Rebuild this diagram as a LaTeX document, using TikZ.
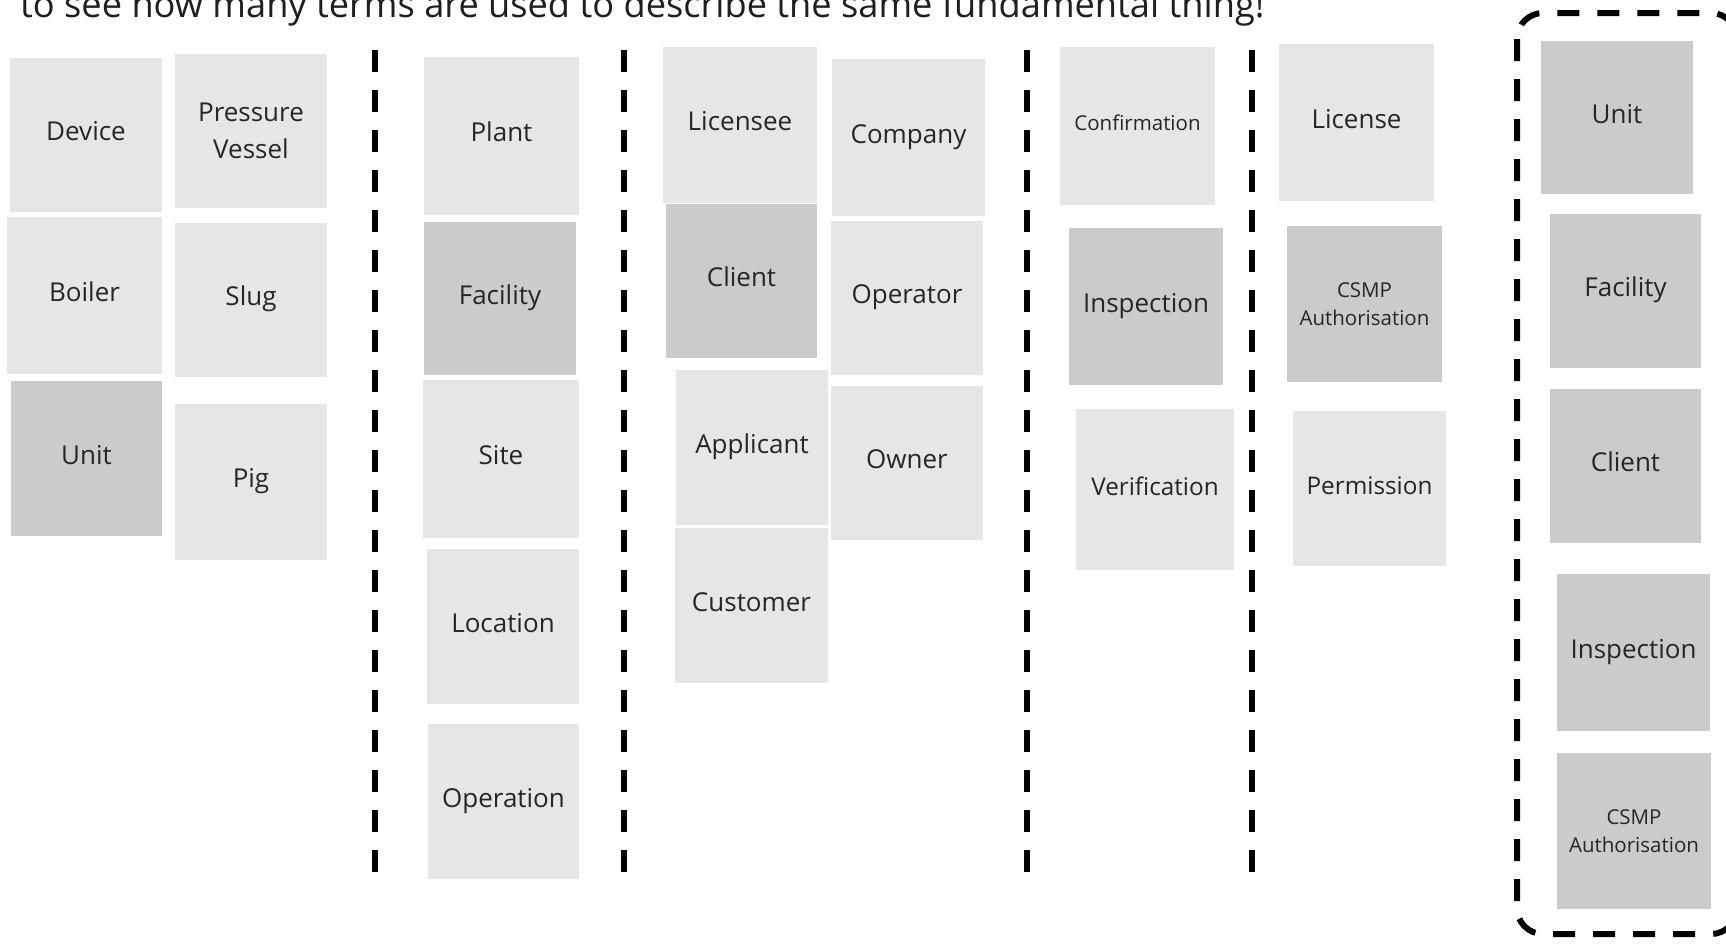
\documentclass[tikz,border=0pt]{standalone}
\usepackage{fontspec}
\setmainfont{Open Sans}
\definecolor{noteLight}{HTML}{E6E6E6}
\definecolor{noteDark}{HTML}{CBCBCB}
\definecolor{ink}{HTML}{262626}
\newcommand\stickynote[7]{%
  \node[#2, minimum width={#5-#3}, minimum height={#6-#4}] (#1) at ({(#3+#5)/2},{(#4+#6)/2}) {#7};}
\begin{document}
\begin{tikzpicture}[x=1pt,y=-1pt,
  note/.style={fill=noteLight, inner sep=0pt, text=ink, align=center,
    font=\fontsize{26}{36.5}\selectfont, text height=15.6pt, text depth=3.9pt},
  hot/.style={note, fill=noteDark},
  small/.style={font=\fontsize{20.5}{27.5}\selectfont, text height=12.3pt, text depth=3.1pt},
  mid/.style={font=\fontsize{24.3}{33}\selectfont},
  twoline/.style={text height=, text depth=},
  sepline/.style={line width=6pt, dash pattern=on 22pt off 18pt},
  headline/.style={anchor=base west, inner sep=0pt, text=black!88, font=\fontsize{36.2}{40}\selectfont}]
\useasboundingbox (0,0) rectangle (1726,943);
\fill[white] (0,0) rectangle (1726,943);

\node[headline] (head) at (20,17) {to see how many terms are used to describe the same fundamental thing!};

% column 1
\stickynote{dev}{note}{10}{58}{162}{212}{Device}
\stickynote{pv}{note,twoline,yshift=3pt}{175}{57}{327}{211}{Pressure\\Vessel}
\stickynote{boi}{note}{7}{217}{162}{374}{Boiler}
\stickynote{slug}{note}{175}{223}{327}{377}{Slug}
\stickynote{unitA}{hot}{11}{381}{162}{536}{Unit}
\stickynote{pig}{note}{175}{404}{327}{560}{Pig}

% column 2
\stickynote{plant}{note}{424}{57}{579}{215}{Plant}
\stickynote{facA}{hot}{424}{222}{576}{375}{Facility}
\stickynote{site}{note}{423}{380}{579}{538}{Site}
\stickynote{loc}{note}{427}{549}{579}{704}{Location}
\stickynote{oper}{note}{428}{724}{579}{879}{Operation}

% column 3
\stickynote{licensee}{note}{663}{47}{817}{203}{Licensee}
\stickynote{company}{note}{832}{59}{985}{216}{Company}
\stickynote{clientA}{hot}{666}{204}{817}{358}{Client}
\stickynote{operator}{note}{831}{221}{983}{375}{Operator}
\stickynote{applicant}{note}{676}{370}{828}{525}{Applicant}
\stickynote{owner}{note}{831}{386}{983}{540}{Owner}
\stickynote{customer}{note}{675}{528}{828}{683}{Customer}

% column 4
\stickynote{confirm}{note,small}{1060}{47}{1215}{205}{Confirmation}
\stickynote{inspA}{hot}{1069}{228}{1223}{385}{Inspection}
\stickynote{verif}{note,mid}{1076}{409}{1234}{570}{Verification}

% column 5
\stickynote{license}{note}{1279}{44}{1434}{201}{License}
\stickynote{csmpA}{hot,small,twoline}{1287}{226}{1442}{382}{CSMP\\Authorisation}
\stickynote{permission}{note,mid}{1293}{411}{1446}{566}{Permission}

% right column
\stickynote{unitB}{hot}{1541}{41}{1693}{194}{Unit}
\stickynote{facB}{hot}{1550}{214}{1701}{368}{Facility}
\stickynote{clientB}{hot}{1550}{389}{1701}{543}{Client}
\stickynote{inspB}{hot}{1557}{574}{1710}{731}{Inspection}
\stickynote{csmpB}{hot,small,twoline}{1557}{753}{1711}{909}{CSMP\\Authorisation}

% separators
\foreach \sx in {375,624,1027,1252}
  \draw[sepline] (\sx,50) -- (\sx,872);

% dashed group frame
\draw[sepline, rounded corners=26pt] (1517,13) rectangle (1737,934);
\end{tikzpicture}
\end{document}
